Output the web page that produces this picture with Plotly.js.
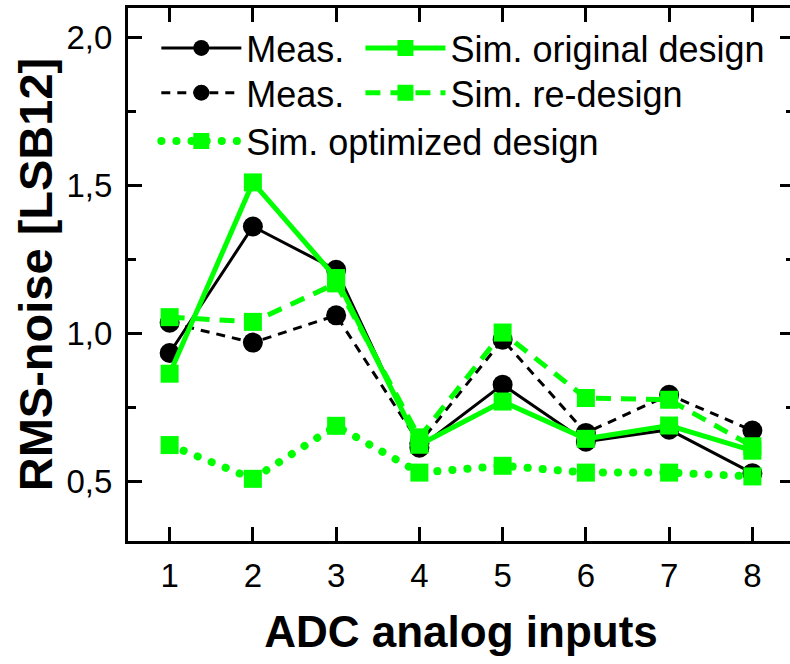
<!DOCTYPE html>
<html>
<head>
<meta charset="utf-8">
<script src="https://cdn.plot.ly/plotly-3.0.1.min.js"></script>
<style>
html, body { margin: 0; padding: 0; overflow: hidden; background: #fff; }
#chart { width: 800px; height: 664px; }
.scatterlayer .trace:nth-child(5) path.js-line { stroke-linecap: round !important; }
g.legend5 path.js-line { stroke-linecap: round !important; }
</style>
</head>
<body>
<div id="chart"></div>
<script>
const inputs = [1, 2, 3, 4, 5, 6, 7, 8];
const measOriginal = [0.935, 1.362, 1.216, 0.615, 0.828, 0.635, 0.676, 0.529];
const measRedesign = [1.037, 0.970, 1.062, 0.630, 0.980, 0.665, 0.794, 0.673];
const simOriginal = [0.865, 1.511, 1.188, 0.625, 0.771, 0.645, 0.690, 0.605];
const simRedesign = [1.056, 1.040, 1.170, 0.650, 1.004, 0.783, 0.777, 0.620];
const simOptimized = [0.624, 0.510, 0.689, 0.531, 0.554, 0.531, 0.531, 0.518];
const yTickVals = [0.5, 1.0, 1.5, 2.0];
const yTickText = ['0,5', '1,0', '1,5', '2,0'];

const FONT = 'Liberation Sans, Arial, sans-serif';
const GREEN = '#00ff00';

const traces = [
  { x: inputs, y: measOriginal, name: 'Meas.', type: 'scatter', mode: 'lines+markers',
    line: { color: '#000', width: 3 }, marker: { symbol: 'circle', size: 20, color: '#000' }, legend: 'legend' },
  { x: inputs, y: measRedesign, name: 'Meas.', type: 'scatter', mode: 'lines+markers',
    line: { color: '#000', width: 3, dash: '9px,7px' }, marker: { symbol: 'circle', size: 20, color: '#000' }, legend: 'legend2' },
  { x: inputs, y: simOriginal, name: 'Sim. original design', type: 'scatter', mode: 'lines+markers',
    line: { color: GREEN, width: 5 }, marker: { symbol: 'square', size: 18, color: GREEN }, legend: 'legend3' },
  { x: inputs, y: simRedesign, name: 'Sim. re-design', type: 'scatter', mode: 'lines+markers',
    line: { color: GREEN, width: 5, dash: '15px,10px' }, marker: { symbol: 'square', size: 18, color: GREEN }, legend: 'legend4' },
  { x: inputs, y: simOptimized, name: 'Sim. optimized design', type: 'scatter', mode: 'lines+markers',
    line: { color: GREEN, width: 8, dash: '0.1px,15px' }, marker: { symbol: 'square', size: 18, color: GREEN }, legend: 'legend5' }
];

const legendCommon = {
  orientation: 'v', bgcolor: 'rgba(0,0,0,0)', borderwidth: 0,
  font: { family: FONT, size: 36, color: '#000' },
  xanchor: 'left', yanchor: 'middle', itemwidth: 80
};
const col1 = 0.0425, col2 = 0.349;
const row1 = 0.925, row2 = 0.841, row3 = 0.7505;

const layout = {
  width: 800, height: 664,
  margin: { l: 128, r: 6, t: 8, b: 123 },
  paper_bgcolor: '#fff', plot_bgcolor: '#fff',
  font: { family: FONT, color: '#000' },
  showlegend: true,
  legend: Object.assign({}, legendCommon, { x: col1, y: row1 }),
  legend2: Object.assign({}, legendCommon, { x: col1, y: row2 }),
  legend3: Object.assign({}, legendCommon, { x: col2, y: row1 }),
  legend4: Object.assign({}, legendCommon, { x: col2, y: row2 }),
  legend5: Object.assign({}, legendCommon, { x: col1, y: row3 }),
  xaxis: {
    range: [0.5, 8.5], tickvals: inputs, ticktext: inputs.map(String),
    ticks: 'inside', ticklen: 14, tickwidth: 3, tickcolor: '#000',
    showline: true, linewidth: 3, linecolor: '#000', mirror: 'ticks',
    showgrid: false, zeroline: false,
    tickfont: { family: FONT, size: 33, color: '#000' }, ticklabelstandoff: 3,
    title: { text: 'ADC analog inputs', font: { family: FONT, size: 44, color: '#000', weight: 'bold' }, standoff: 24 }
  },
  yaxis: {
    range: [0.3, 2.1], tickvals: yTickVals, ticktext: yTickText,
    ticks: 'inside', ticklen: 14, tickwidth: 3, tickcolor: '#000',
    minor: { dtick: 0.5, tick0: 0.25, ticks: 'inside', ticklen: 8, tickwidth: 3, tickcolor: '#000' },
    showline: true, linewidth: 3, linecolor: '#000', mirror: 'ticks',
    showgrid: false, zeroline: false,
    tickfont: { family: FONT, size: 33, color: '#000' }, ticklabelstandoff: 6,
    title: { text: 'RMS-noise [LSB12]', font: { family: FONT, size: 47, color: '#000', weight: 'bold' }, standoff: 0 }
  }
};

Plotly.newPlot('chart', traces, layout, { displayModeBar: false, staticPlot: true });
</script>
</body>
</html>
